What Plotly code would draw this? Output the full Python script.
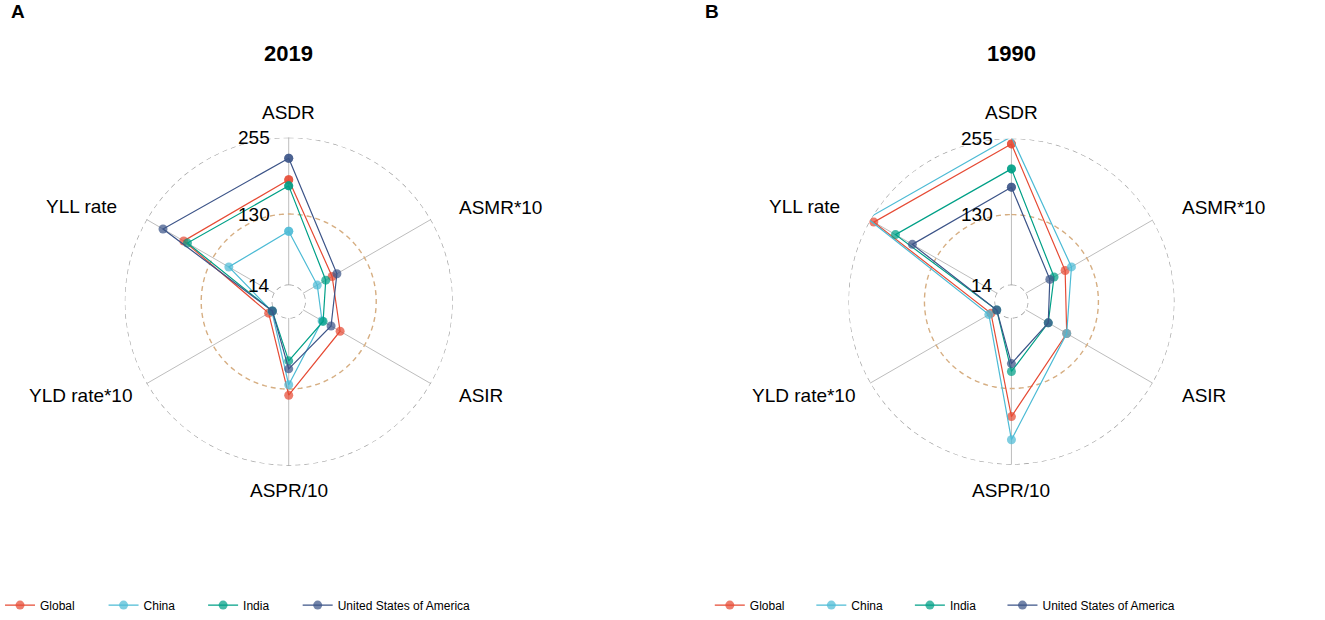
import numpy as np
import plotly.graph_objects as go

# ---------------- data ----------------
categories = ["ASDR", "ASMR*10", "ASIR", "ASPR/10", "YLD rate*10", "YLL rate"]
series_names = ["Global", "China", "India", "United States of America"]

global_2019 = [186, 69, 84, 140, 25, 185]
china_2019 = [102, 41, 50, 123, 19, 100]
india_2019 = [176, 57, 52, 84, 18, 178]
usa_2019 = [221, 78, 67, 97, 18, 224]

global_1990 = [246, 89, 92, 176, 26, 248]
china_1990 = [258, 101, 92, 214, 30, 260]
india_1990 = [205, 68, 57, 102, 15, 207]
usa_1990 = [175, 60, 57, 89, 15, 175]

grid_values = [14, 130, 255]
grid_labels = ["14", "130", "255"]
panel_titles = ["2019", "1990"]
panel_tags = ["A", "B"]

# ---------------- styles ----------------
colors = ["#E64B35", "#4DBBD5", "#00A087", "#3C5488"]
circle_colors = ["#A0A0A0", "#D6AE82", "#A0A0A0"]
FONT = "Liberation Sans, Arial, sans-serif"
W, H = 1325, 620
HOLE = 0.1
RMIN, RMAX = grid_values[0], grid_values[-1]

panels = [
    dict(cx=284, cy=305, R=166, tag_x=3, legend_marker_x=[13, 117, 217, 312],
         data=[global_2019, china_2019, india_2019, usa_2019]),
    dict(cx=1010, cy=305, R=165, tag_x=700, legend_marker_x=[726, 828, 927, 1020],
         data=[global_1990, china_1990, india_1990, usa_1990]),
]
# label offsets (dx, dy, xanchor) relative to centre, px
label_pos = [(0, -191, "center"), (169, -95, "left"), (169, 95, "left"),
             (0, 191, "center"), (-154, 95, "right"), (-170, -96, "right")]

angles = [i * 360 / len(categories) for i in range(len(categories))]
circle_theta = np.linspace(0, 360, 361)

fig = go.Figure()
annotations = []
layout_extra = {}
legend_idx = 0

for k, p in enumerate(panels):
    sub = "polar" if k == 0 else f"polar{k+1}"
    # grid circles
    for v, cc in zip(grid_values, circle_colors):
        fig.add_trace(go.Scatterpolar(
            r=[v] * len(circle_theta), theta=circle_theta, mode="lines",
            line=dict(color=cc, width=1.4, dash="5px,4px"),
            hoverinfo="skip", showlegend=False, cliponaxis=False, subplot=sub))
    # series
    for j, (name, vals, c) in enumerate(zip(series_names, p["data"], colors)):
        legend_idx += 1
        leg = "legend" if legend_idx == 1 else f"legend{legend_idx}"
        fig.add_trace(go.Scatterpolar(
            r=vals + [vals[0]], theta=angles + [angles[0]], mode="lines+markers",
            name=name, line=dict(color=c, width=1.2),
            marker=dict(size=9, color=c, opacity=0.72),
            cliponaxis=False, subplot=sub, legend=leg))
        layout_extra[leg] = dict(
            orientation="h", yanchor="middle", xanchor="left", y=1 - 612 / H,
            x=(p["legend_marker_x"][j] - 19) / W, itemwidth=30,
            bgcolor="rgba(0,0,0,0)", font=dict(family=FONT, size=12, color="black"))

    cx, cy, R = p["cx"], p["cy"], p["R"]
    layout_extra[sub] = dict(
        domain=dict(x=[(cx - R) / W, (cx + R) / W], y=[1 - (cy + R) / H, 1 - (cy - R) / H]),
        hole=HOLE, bgcolor="white",
        radialaxis=dict(range=[RMIN, RMAX], showline=False, showticklabels=False,
                        showgrid=False, ticks=""),
        angularaxis=dict(direction="clockwise", rotation=90, tickmode="array",
                         tickvals=angles, showticklabels=False, ticks="",
                         showline=False, showgrid=True, gridcolor="#BDBDBD", gridwidth=1),
    )
    # axis labels
    for cat, (dx, dy, xa) in zip(categories, label_pos):
        annotations.append(dict(text=cat, x=(cx + dx) / W, y=1 - (cy + dy) / H,
                                xref="paper", yref="paper", xanchor=xa, yanchor="middle",
                                showarrow=False, font=dict(family=FONT, size=19, color="black")))
    # radial tick labels
    for v, lab in zip(grid_values, grid_labels):
        rpx = R * (HOLE + (1 - HOLE) * (v - RMIN) / (RMAX - RMIN))
        annotations.append(dict(text=lab, x=(cx - 17) / W, y=1 - (cy - rpx) / H,
                                xref="paper", yref="paper", xanchor="right", yanchor="middle",
                                showarrow=False, font=dict(family=FONT, size=19, color="black")))
    # title and tag
    annotations.append(dict(text="<b>" + panel_titles[k] + "</b>", x=cx / W, y=1 - 54 / H,
                            xref="paper", yref="paper", xanchor="center", yanchor="middle",
                            showarrow=False, font=dict(family=FONT, size=22, color="black")))
    annotations.append(dict(text="<b>" + panel_tags[k] + "</b>", x=p["tag_x"] / W, y=1 - 12 / H,
                            xref="paper", yref="paper", xanchor="left", yanchor="middle",
                            showarrow=False, font=dict(family=FONT, size=19, color="black")))

fig.update_layout(
    width=W, height=H, margin=dict(l=0, r=0, t=0, b=0),
    paper_bgcolor="white", plot_bgcolor="white",
    font=dict(family=FONT),
    annotations=annotations,
    **layout_extra,
)

fig.write_html("out.html", config={"displayModeBar": False},
               post_script="document.body.style.margin='0px';")
